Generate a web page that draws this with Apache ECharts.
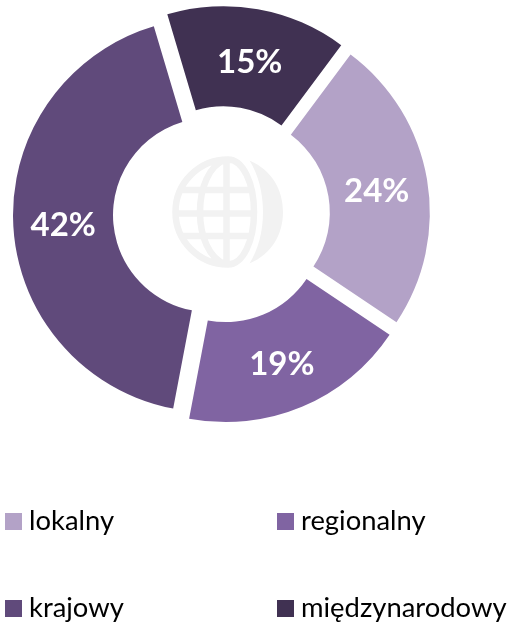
<!DOCTYPE html>
<html>
<head>
<meta charset="utf-8">
<style>html,body{margin:0;padding:0;background:#fff}#c{width:510px;height:624px}</style>
<script src="https://cdn.jsdelivr.net/npm/echarts@6/dist/echarts.min.js"></script>
</head>
<body>
<div id="c"></div>
<script>
const categories = ['lokalny', 'regionalny', 'krajowy', 'międzynarodowy'];
const values = [24.2, 18.6, 42.4, 14.8];
const colors = ['#b3a2c7', '#8064a2', '#604a7b', '#403152'];
const labelNudges = [[-4, 4], [-2, 1], [3, 3], [0, 7]];
const legendSpots = [[5, 508], [277, 508], [5, 595], [277, 595]];

function shapeFrom(d) {
  return echarts.graphic.extendPath(d, {});
}
echarts.graphic.registerShape('globeShade', shapeFrom('M249.5 160.5 C272 170 283 190 283 212 C283 234 272 254 249.5 263.5 C258 250 263 232 263 212 C263 192 258 174 249.5 160.5 Z'));
echarts.graphic.registerShape('globeLines', shapeFrom('M228 159.5 C199 159.5 175.5 183 175.5 212 C175.5 241 199 264.5 228 264.5 C243 264.5 254 241 254 212 C254 183 243 159.5 228 159.5 Z M226.5 159.5 L226.5 264.5 M226 159.5 C209 165 200 188 200 212 C200 236 209 259 226 264.5 M182 190 L250 190 M176 213.5 L254 213.5 M182 236 L250 236'));

const chart = echarts.init(document.getElementById('c'), null, {renderer: 'canvas'});
chart.setOption({
  animation: false,
  legend: categories.map((n, i) => ({
    data: [n], left: legendSpots[i][0], top: legendSpots[i][1], padding: 0,
    icon: 'rect', itemWidth: 17, itemHeight: 17,
    textStyle: {fontFamily: 'Lato', fontSize: 27.4, color: '#000', padding: [0, 0, 0, 2]},
    selectedMode: false
  })),
  graphic: [
    {type: 'globeShade', silent: true, z: 0, style: {fill: '#f2f2f2'}},
    {type: 'globeLines', silent: true, z: 0, style: {stroke: '#f2f2f2', fill: null, lineWidth: 6.5}}
  ],
  series: [{
    type: 'pie',
    center: [221.5, 214.5],
    radius: [97, 197],
    startAngle: 53.3,
    clockwise: true,
    selectedMode: 'multiple',
    selectedOffset: 11.5,
    data: categories.map((n, i) => ({
      name: n, value: values[i], selected: true,
      itemStyle: {color: colors[i]},
      select: {itemStyle: {color: colors[i]}}
    })),
    label: {position: 'inside', formatter: p => Math.round(p.value) + '%', color: '#fff', fontFamily: 'Lato', fontWeight: 'bold', fontSize: 33},
    labelLayout: p => ({dx: labelNudges[p.dataIndex][0], dy: labelNudges[p.dataIndex][1]}),
    labelLine: {show: false},
    emphasis: {disabled: true}
  }]
});
</script>
</body>
</html>
